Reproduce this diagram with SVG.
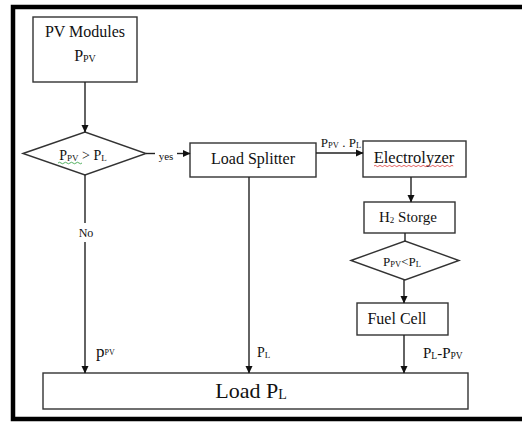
<svg xmlns="http://www.w3.org/2000/svg" width="522" height="422" viewBox="0 0 522 422">
<defs>
<marker id="arr" markerWidth="8" markerHeight="8" refX="7" refY="4" orient="auto" markerUnits="userSpaceOnUse">
<path d="M0,0.5 L7.5,4 L0,7.5 Z" fill="#111"/>
</marker>
<style>
.box{fill:#fff;stroke:#333;stroke-width:1.4}
.ln{fill:none;stroke:#222;stroke-width:1.4}
.frame{stroke:#000;stroke-width:4.5;fill:none}
</style>
</defs>
<rect width="522" height="422" fill="#fff"/>
<path class="frame" d="M540,7 L13,7 L13,419 L540,419"/>

<g id="pv-modules">
<rect class="box" x="33" y="17" width="104" height="65"/>
<text x="85" y="37" font-family="Liberation Serif, serif" fill="#111" font-size="16" text-anchor="middle">PV Modules</text>
<text x="85" y="61" font-family="Liberation Serif, serif" fill="#111" font-size="16" text-anchor="middle">P<tspan font-size="10" dy="1">PV</tspan></text>
</g>

<g id="decision-1">
<polygon class="box" points="23,153.5 85,132 146,153.5 85,175"/>
<text x="83" y="160" font-family="Liberation Serif, serif" fill="#111" font-size="14" text-anchor="middle">P<tspan font-size="9" dy="1">PV</tspan><tspan dy="-1"> &gt; P</tspan><tspan font-size="9" dy="1">L</tspan></text>
<path d="M58,163 q1.5,-1.5 3,0 t3,0 t3,0 t3,0 t3,0 t3,0 t3,0 t3,0" fill="none" stroke="#2a9d3a" stroke-width="0.8"/>
</g>

<g id="load-splitter">
<rect class="box" x="190" y="143" width="126" height="34"/>
<text x="253" y="164" font-family="Liberation Serif, serif" fill="#111" font-size="16" text-anchor="middle">Load Splitter</text>
</g>

<g id="electrolyzer">
<rect class="box" x="363" y="141" width="103" height="36"/>
<text x="414" y="163" font-family="Liberation Serif, serif" fill="#111" font-size="16.5" text-anchor="middle">Electrolyzer</text>
<path d="M374,166 q1.2,-1.2 2.4,0 t2.4,0 t2.4,0 t2.4,0 t2.4,0 t2.4,0 t2.4,0 t2.4,0 t2.4,0 t2.4,0 t2.4,0 t2.4,0 t2.4,0 t2.4,0 t2.4,0 t2.4,0 t2.4,0 t2.4,0 t2.4,0 t2.4,0 t2.4,0 t2.4,0 t2.4,0 t2.4,0 t2.4,0 t2.4,0 t2.4,0 t2.4,0 t2.4,0 t2.4,0 t2.4,0 t2.4,0 t2.4,0" fill="none" stroke="#d33" stroke-width="0.8"/>
</g>

<g id="h2-storage">
<rect class="box" x="364" y="202" width="91" height="31"/>
<text x="408" y="222" font-family="Liberation Serif, serif" fill="#111" font-size="15" text-anchor="middle">H<tspan font-size="9" dy="1">2</tspan><tspan dy="-1"> Storge</tspan></text>
</g>

<g id="decision-2">
<polygon class="box" points="351,260.5 405,241 459,260.5 405,280"/>
<text x="402" y="266" font-family="Liberation Serif, serif" fill="#111" font-size="13" text-anchor="middle">P<tspan font-size="8.5" dy="1">PV</tspan><tspan dy="-1">&lt;P</tspan><tspan font-size="8.5" dy="1">L</tspan></text>
</g>

<g id="fuel-cell">
<rect class="box" x="357" y="303" width="91" height="32"/>
<text x="397" y="324" font-family="Liberation Serif, serif" fill="#111" font-size="16" text-anchor="middle">Fuel Cell</text>
</g>

<g id="load">
<rect class="box" x="43" y="373" width="425" height="36"/>
<text x="251" y="398" font-family="Liberation Serif, serif" fill="#111" font-size="22" text-anchor="middle">Load P<tspan font-size="14" dy="1">L</tspan></text>
</g>

<g id="connectors">
<line class="ln" x1="85" y1="82" x2="85" y2="132" marker-end="url(#arr)"/>
<line class="ln" x1="146" y1="153.5" x2="155" y2="153.5"/>
<line class="ln" x1="177" y1="153.5" x2="190" y2="153.5" marker-end="url(#arr)"/>
<line class="ln" x1="316" y1="153" x2="363" y2="153" marker-end="url(#arr)"/>
<line class="ln" x1="411" y1="177" x2="411" y2="202" marker-end="url(#arr)"/>
<line class="ln" x1="405" y1="233" x2="405" y2="241"/>
<line class="ln" x1="404" y1="280" x2="404" y2="303" marker-end="url(#arr)"/>
<line class="ln" x1="404" y1="335" x2="404" y2="373" marker-end="url(#arr)"/>
<line class="ln" x1="85" y1="175" x2="85" y2="223"/>
<line class="ln" x1="85" y1="242" x2="85" y2="373" marker-end="url(#arr)"/>
<line class="ln" x1="249" y1="177" x2="249" y2="373" marker-end="url(#arr)"/>
<text x="166" y="160" font-family="Liberation Serif, serif" fill="#111" font-size="11" text-anchor="middle">yes</text>
<text x="341" y="147" font-family="Liberation Serif, serif" fill="#111" font-size="13" text-anchor="middle">P<tspan font-size="8.5" dy="1">PV</tspan><tspan dy="-1"> . P</tspan><tspan font-size="8.5" dy="1">L</tspan></text>
<text x="86" y="237" font-family="Liberation Serif, serif" fill="#111" font-size="12" text-anchor="middle">No</text>
<text x="96" y="357" font-family="Liberation Serif, serif" fill="#111" font-size="17">p<tspan font-size="8" dy="-2">PV</tspan></text>
<text x="257" y="357" font-family="Liberation Serif, serif" fill="#111" font-size="14">P<tspan font-size="9" dy="1">L</tspan></text>
<text x="423" y="358" font-family="Liberation Serif, serif" fill="#111" font-size="15">P<tspan font-size="9.5" dy="1">L</tspan><tspan dy="-1">-P</tspan><tspan font-size="9.5" dy="1">PV</tspan></text>
</g>
</svg>
